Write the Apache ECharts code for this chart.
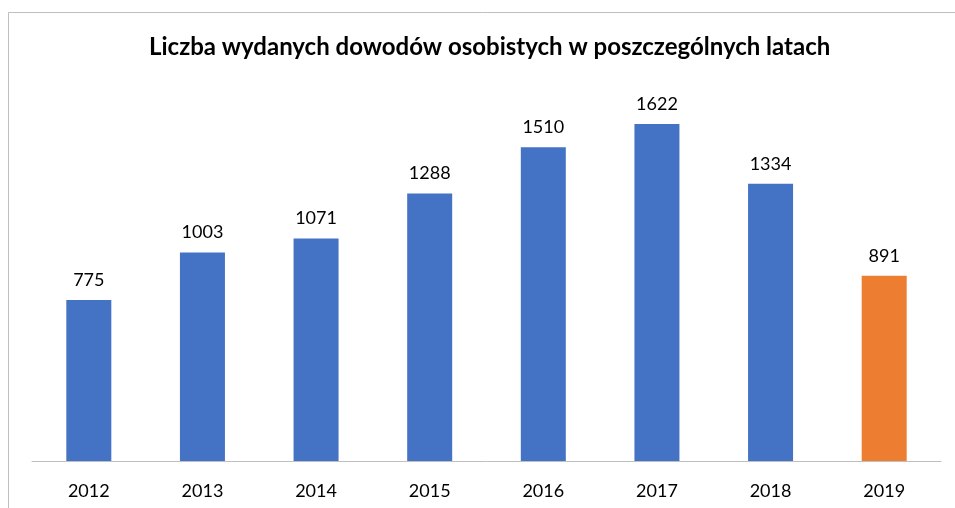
<!DOCTYPE html>
<html>
<head>
<meta charset="utf-8">
<script src="https://cdn.jsdelivr.net/npm/echarts@6/dist/echarts.min.js"></script>
<style>
  html, body { margin: 0; padding: 0; background: #fff; }
  #chart { width: 955px; height: 508px; }
</style>
</head>
<body>
<div id="chart"></div>
<script>
  // dane z wykresu
  const years = ['2012', '2013', '2014', '2015', '2016', '2017', '2018', '2019']
  const counts = [775, 1003, 1071, 1288, 1510, 1622, 1334, 891]
  const title = 'Liczba wydanych dowodów osobistych w poszczególnych latach'

  const blue = '#4472c4'
  const orange = '#ed7d31'
  const font = 'Lato, "Open Sans", sans-serif'

  const chart = echarts.init(document.getElementById('chart'))
  chart.setOption({
    animation: false,
    title: {
      text: title,
      left: 144,
      top: 30,
      textStyle: { fontFamily: font, fontSize: 24, fontWeight: 'bold', color: '#000' }
    },
    grid: { left: 32, right: 14, top: 87, bottom: 47 },
    xAxis: {
      type: 'category',
      data: years,
      axisLine: { lineStyle: { color: '#bfbfbf', width: 1 } },
      axisTick: { show: false },
      axisLabel: { fontFamily: font, fontSize: 18, color: '#000', margin: 21 }
    },
    yAxis: {
      type: 'value',
      min: 0,
      max: 1800,
      show: false,
      splitLine: { show: false }
    },
    series: [{
      type: 'bar',
      barWidth: 45,
      data: counts.map((v, i) => ({
        value: v,
        itemStyle: { color: i === counts.length - 1 ? orange : blue }
      })),
      label: {
        show: true,
        position: 'top',
        distance: 11,
        fontFamily: font,
        fontSize: 18,
        color: '#000'
      }
    }],
    graphic: [{
      type: 'rect',
      shape: { x: 8.5, y: 12.5, width: 1000, height: 1000 },
      style: { fill: 'none', stroke: '#bfbfbf', lineWidth: 1 },
      silent: true
    }]
  })
</script>
</body>
</html>
